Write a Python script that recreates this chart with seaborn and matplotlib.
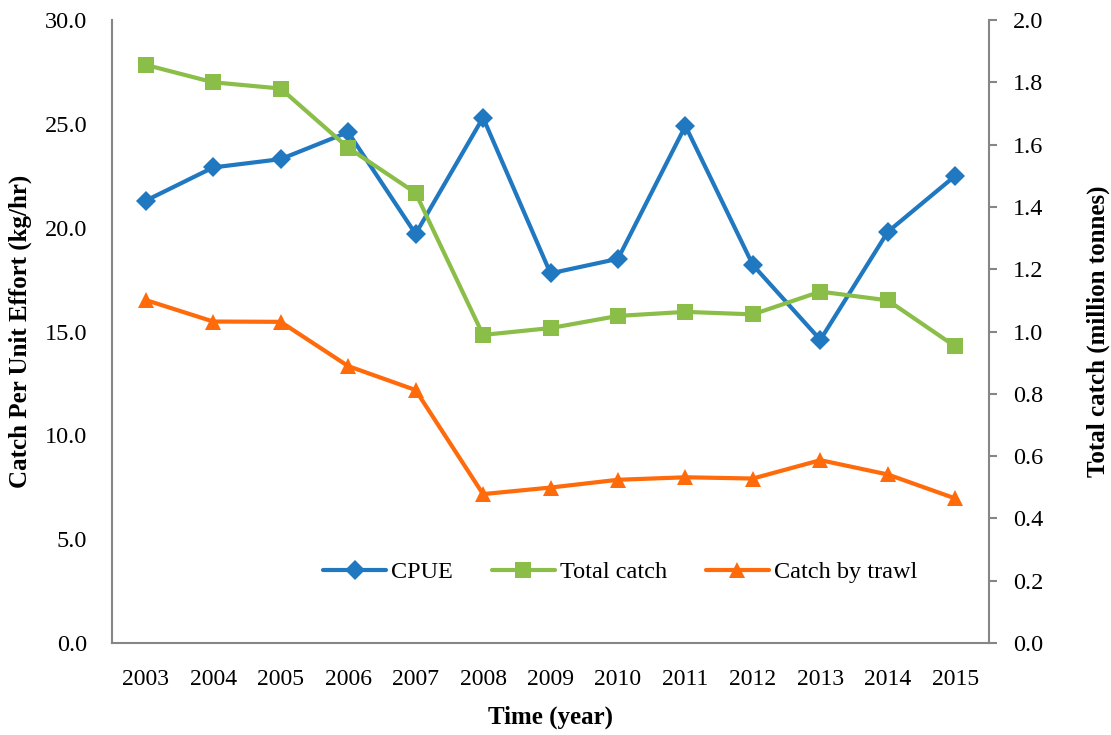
import matplotlib
matplotlib.use("Agg")
import matplotlib.pyplot as plt
import seaborn as sns
import pandas as pd

years = [2003, 2004, 2005, 2006, 2007, 2008, 2009, 2010, 2011, 2012, 2013, 2014, 2015]
cpue = [21.3, 22.9, 23.3, 24.6, 19.7, 25.3, 17.8, 18.5, 24.9, 18.2, 14.6, 19.8, 22.5]
total_catch = [1.856, 1.80, 1.78, 1.59, 1.445, 0.989, 1.011, 1.05, 1.063, 1.055, 1.128, 1.100, 0.952]
trawl_catch = [1.101, 1.032, 1.031, 0.889, 0.812, 0.478, 0.499, 0.524, 0.532, 0.528, 0.587, 0.541, 0.464]
left_ticks = [0, 5, 10, 15, 20, 25, 30]
right_ticks = [0.0, 0.2, 0.4, 0.6, 0.8, 1.0, 1.2, 1.4, 1.6, 1.8, 2.0]

df = pd.DataFrame({"year": years, "CPUE": cpue, "Total catch": total_catch,
                   "Catch by trawl": trawl_catch})

sns.set_style("white")
plt.rcParams['font.family'] = ['Liberation Serif', 'DejaVu Serif']
plt.rcParams['text.color'] = 'black'

BLUE = '#1f78c0'
GREEN = '#8bbd49'
ORANGE = '#ff6a0a'
GRAY = '#868686'

fig = plt.figure(figsize=(11.11, 7.35), dpi=100)
ax = fig.add_axes([112/1111, 1-643/735, (989-112)/1111, (643-20)/735])
ax2 = ax.twinx()

sns.lineplot(data=df, x="year", y="CPUE", ax=ax, color=BLUE, lw=3, marker='D',
             markersize=10, markeredgewidth=0, label="CPUE", legend=False)
sns.lineplot(data=df, x="year", y="Total catch", ax=ax2, color=GREEN, lw=3, marker='s',
             markersize=12, markeredgewidth=0, label="Total catch", legend=False)
sns.lineplot(data=df, x="year", y="Catch by trawl", ax=ax2, color=ORANGE, lw=3, marker='^',
             markersize=12, markeredgewidth=0, label="Catch by trawl", legend=False)

ax.set_xlim(years[0] - 0.5, years[-1] + 0.5)
ax.set_ylim(0, 30)
ax2.set_ylim(0, 2.0)
ax.set_xticks(years)
ax.set_xticklabels([str(y) for y in years])
ax.set_yticks(left_ticks)
ax.set_yticklabels([f"{v:.1f}" for v in left_ticks])
ax2.set_yticks(right_ticks)
ax2.set_yticklabels([f"{v:.1f}" for v in right_ticks])

for a in (ax, ax2):
    a.spines['top'].set_visible(False)
    for s in ('left', 'right', 'bottom'):
        a.spines[s].set_color(GRAY)
        a.spines[s].set_linewidth(1.5)
ax.spines['right'].set_visible(False)
ax2.spines['left'].set_visible(False)
ax2.spines['bottom'].set_visible(False)

ax.tick_params(axis='x', length=0, labelsize=17, pad=18.5, colors='black')
ax.tick_params(axis='y', length=0, labelsize=17.5, pad=18, colors='black')
ax2.tick_params(axis='y', length=5.8, width=1.5, color=GRAY, labelsize=17.5, pad=11.5, labelcolor='black')

ax.set_xlabel("Time (year)", fontsize=18, fontweight='bold', color='black')
ax.set_ylabel("Catch Per Unit Effort (kg/hr)", fontsize=18, fontweight='bold', color='black')
ax2.set_ylabel("Total catch (million tonnes)", fontsize=18, fontweight='bold', color='black')
ax.xaxis.set_label_coords((550 - 112) / 877, (643 - 717) / 623)
ax.yaxis.set_label_coords((20 - 112) / 877, 0.5)
ax2.yaxis.set_label_coords((1098 - 112) / 877, 0.5)
ax.xaxis.label.set_va('center')
ax.yaxis.label.set_va('center')
ax2.yaxis.label.set_va('center')

h1, l1 = ax.get_legend_handles_labels()
h2, l2 = ax2.get_legend_handles_labels()
leg = ax2.legend(h1 + h2, l1 + l2, loc='center', bbox_to_anchor=((620-112)/877, (643-572)/623),
                 ncol=3, frameon=False, fontsize=17.5, handlelength=2.6, columnspacing=1.6,
                 handletextpad=0.2)
for t in leg.get_texts():
    t.set_color('black')

fig.savefig("out.png", dpi=100)
